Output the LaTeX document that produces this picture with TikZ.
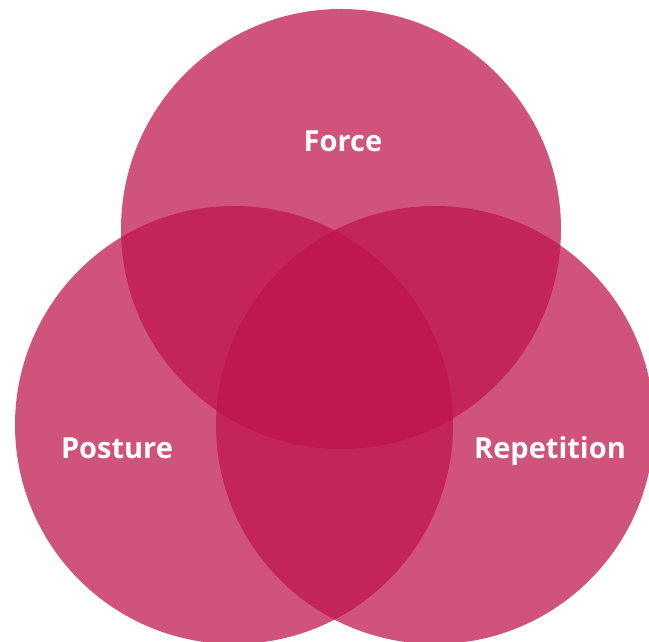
\documentclass[tikz,border=0pt]{standalone}
\usepackage{fontspec}
\setmainfont{Open Sans}
\definecolor{riskpink}{RGB}{190,19,75}
\tikzset{
  riskcircle/.style={fill=riskpink, fill opacity=0.73},
  risklabel/.style={text=white, font=\bfseries\fontsize{29}{34}\selectfont, inner sep=0pt, anchor=base}
}

\begin{document}
\begin{tikzpicture}[x=1pt, y=1pt]
\useasboundingbox (0,0) rectangle (649,642);
\clip (0,0) rectangle (649,642);
\fill[riskcircle] (341,413) circle (220);
\fill[riskcircle] (234,217) circle (219);
\fill[riskcircle] (435,217) circle (219);
\node[risklabel] (force) at (343,490) {Force};
\node[risklabel] (posture) at (117,183) {Posture};
\node[risklabel] (repetition) at (550,183) {Repetition};
\end{tikzpicture}
\end{document}
